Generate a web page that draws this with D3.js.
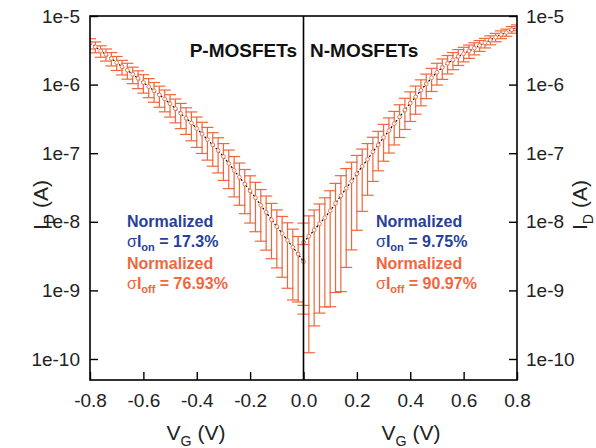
<!DOCTYPE html>
<html lang="en">
<head>
<meta charset="UTF-8">
<title>P/N MOSFET transfer curves</title>
<script src="https://cdn.jsdelivr.net/npm/d3@7"></script>
<style>
  body { margin: 0; background: #fff; }
  text { font-family: Arial, "Liberation Sans", sans-serif; }
</style>
</head>
<body>
<svg id="chart" width="596" height="448"></svg>
<script>
// gate voltage steps (V), P side runs -0.8..0, N side 0..0.8
const pVg = [-0.80,-0.78,-0.76,-0.74,-0.72,-0.70,-0.68,-0.66,-0.64,-0.62,-0.60,-0.58,-0.56,-0.54,-0.52,-0.50,-0.48,-0.46,-0.44,-0.42,-0.40,-0.38,-0.36,-0.34,-0.32,-0.30,-0.28,-0.26,-0.24,-0.22,-0.20,-0.18,-0.16,-0.14,-0.12,-0.10,-0.08,-0.06,-0.04,-0.02,0.00];
const nVg = [0.00,0.02,0.04,0.06,0.08,0.10,0.12,0.14,0.16,0.18,0.20,0.22,0.24,0.26,0.28,0.30,0.32,0.34,0.36,0.38,0.40,0.42,0.44,0.46,0.48,0.50,0.52,0.54,0.56,0.58,0.60,0.62,0.64,0.66,0.68,0.70,0.72,0.74,0.76,0.78,0.80];

// mean drain current, log10(A)
const pLogId = [-5.40,-5.45,-5.51,-5.56,-5.62,-5.68,-5.74,-5.79,-5.85,-5.91,-5.97,-6.03,-6.09,-6.15,-6.21,-6.28,-6.35,-6.42,-6.49,-6.56,-6.64,-6.72,-6.80,-6.88,-6.96,-7.05,-7.15,-7.25,-7.35,-7.45,-7.55,-7.65,-7.76,-7.86,-7.97,-8.07,-8.17,-8.27,-8.37,-8.47,-8.58];
const nLogId = [-8.30,-8.21,-8.12,-8.03,-7.94,-7.84,-7.73,-7.62,-7.51,-7.41,-7.30,-7.19,-7.09,-6.98,-6.88,-6.77,-6.67,-6.57,-6.47,-6.37,-6.27,-6.18,-6.08,-5.99,-5.90,-5.82,-5.75,-5.69,-5.64,-5.59,-5.55,-5.51,-5.47,-5.43,-5.39,-5.35,-5.31,-5.27,-5.24,-5.20,-5.17];

// normalized standard deviation (sigma / mean) per point
const pSigma = [0.17,0.18,0.19,0.20,0.22,0.23,0.24,0.26,0.27,0.29,0.30,0.31,0.32,0.34,0.35,0.36,0.38,0.40,0.42,0.45,0.47,0.48,0.50,0.51,0.53,0.55,0.57,0.59,0.61,0.63,0.66,0.68,0.70,0.72,0.73,0.75,0.77,0.80,0.83,0.80,0.77];
const nSigma = [0.91,0.98,0.96,0.95,0.95,0.96,0.95,0.96,0.93,0.90,0.85,0.78,0.70,0.63,0.58,0.55,0.53,0.51,0.50,0.48,0.46,0.44,0.41,0.39,0.37,0.35,0.33,0.30,0.28,0.26,0.24,0.22,0.20,0.18,0.16,0.15,0.14,0.13,0.12,0.11,0.0975];

const xTicks = [-0.8,-0.6,-0.4,-0.2,0.0,0.2,0.4,0.6,0.8];
const yTicks = [1e-5,1e-6,1e-7,1e-8,1e-9,1e-10];
const yTickLabels = ["1e-5","1e-6","1e-7","1e-8","1e-9","1e-10"];

const orange = "#f2663d";
const blue = "#27409a";

const pLeft = 90, pRight = 517, pTop = 16, pBottom = 380;

const svg = d3.select("#chart");

const x = d3.scaleLinear().domain([-0.8, 0.8]).range([pLeft, pRight]);
const y = d3.scaleLog().domain([4.94e-11, 1e-5]).range([pBottom, pTop]);

svg.append("defs").append("clipPath").attr("id", "plot-clip")
  .append("rect").attr("x", pLeft).attr("y", pTop)
  .attr("width", pRight - pLeft).attr("height", pBottom - pTop);

function makeSeries(vg, logId, sigma) {
  return vg.map((v, i) => {
    const m = Math.pow(10, logId[i]);
    return { v: v, m: m, hi: m * (1 + sigma[i]), lo: m * (1 - sigma[i]) };
  });
}
const pData = makeSeries(pVg, pLogId, pSigma);
const nData = makeSeries(nVg, nLogId, nSigma);

const plot = svg.append("g").attr("clip-path", "url(#plot-clip)");

function drawSeries(data) {
  const g = plot.append("g");
  const cap = 6;
  const bars = g.selectAll(".bar").data(data).enter().append("g").attr("class", "bar")
    .attr("stroke", orange).attr("stroke-width", 1.2);
  bars.append("line")
    .attr("x1", d => x(d.v)).attr("x2", d => x(d.v))
    .attr("y1", d => y(d.hi)).attr("y2", d => y(d.lo));
  bars.append("line")
    .attr("x1", d => x(d.v) - cap).attr("x2", d => x(d.v) + cap)
    .attr("y1", d => y(d.hi)).attr("y2", d => y(d.hi));
  bars.append("line")
    .attr("x1", d => x(d.v) - cap).attr("x2", d => x(d.v) + cap)
    .attr("y1", d => y(d.lo)).attr("y2", d => y(d.lo));

  g.append("path").datum(data)
    .attr("fill", "none").attr("stroke", "#000").attr("stroke-width", 1.2)
    .attr("stroke-dasharray", "2,2")
    .attr("d", d3.line().x(d => x(d.v)).y(d => y(d.m)));

  g.selectAll(".pt").data(data).enter().append("circle").attr("class", "pt")
    .attr("cx", d => x(d.v)).attr("cy", d => y(d.m)).attr("r", 1.9)
    .attr("fill", "#fff").attr("stroke", orange).attr("stroke-width", 0.9);
}
drawSeries(pData);
drawSeries(nData);

// divider at V = 0
svg.append("line")
  .attr("x1", x(0)).attr("x2", x(0)).attr("y1", pTop).attr("y2", pBottom)
  .attr("stroke", "#000").attr("stroke-width", 1.6);

// axes
const fmt = (d, i) => yTickLabels[i];
const yLeft = svg.append("g").attr("transform", `translate(${pLeft},0)`)
  .call(d3.axisLeft(y).tickValues(yTicks).tickFormat(fmt).tickSize(-8).tickPadding(10));
const yRight = svg.append("g").attr("transform", `translate(${pRight},0)`)
  .call(d3.axisRight(y).tickValues(yTicks).tickFormat(fmt).tickSize(-8).tickPadding(9));
const xBottom = svg.append("g").attr("transform", `translate(0,${pBottom})`)
  .call(d3.axisBottom(x).tickValues(xTicks).tickFormat(d3.format(".1f")).tickSize(-8).tickPadding(14));

[yLeft, yRight, xBottom].forEach(a => {
  a.select(".domain").remove();
  a.selectAll(".tick line").attr("stroke", "#000").attr("stroke-width", 1.4);
  a.selectAll(".tick text").attr("font-size", 19).attr("fill", "#222")
    .style("font-family", "Arial, 'Liberation Sans', sans-serif");
});
xBottom.selectAll(".tick text").text(d => d3.format(".1f")(d).replace("−", "-"));

svg.append("rect")
  .attr("x", pLeft).attr("y", pTop).attr("width", pRight - pLeft).attr("height", pBottom - pTop)
  .attr("fill", "none").attr("stroke", "#000").attr("stroke-width", 1.6);

// axis titles
function subLabel(g, main, sub, rest, size) {
  const t = g.append("text").attr("font-size", size).attr("fill", "#222");
  t.append("tspan").text(main);
  t.append("tspan").attr("font-size", size * 0.68).attr("dy", size * 0.28).text(sub);
  t.append("tspan").attr("dy", -size * 0.28).text(rest);
  return t;
}
subLabel(svg, "V", "G", " (V)", 21).attr("x", 196).attr("y", 440).attr("text-anchor", "middle");
subLabel(svg, "V", "G", " (V)", 21).attr("x", 411).attr("y", 440).attr("text-anchor", "middle");
subLabel(svg, "I", "D", " (A)", 21).attr("text-anchor", "middle")
  .attr("transform", "translate(48,205) rotate(-90)");
subLabel(svg, "I", "D", " (A)", 21).attr("text-anchor", "middle")
  .attr("transform", "translate(587,205) rotate(-90)");

// panel titles
svg.append("text").attr("x", 297).attr("y", 57).attr("text-anchor", "end")
  .attr("font-size", 19).attr("font-weight", "bold").attr("fill", "#111").text("P-MOSFETs");
svg.append("text").attr("x", 310).attr("y", 57)
  .attr("font-size", 19).attr("font-weight", "bold").attr("fill", "#111").text("N-MOSFETs");

// sigma notes
function note(x0, on, off) {
  const rows = [
    { y: 227, c: blue, kind: "head" },
    { y: 247, c: blue, sub: "on", val: on },
    { y: 269, c: orange, kind: "head" },
    { y: 289, c: orange, sub: "off", val: off }
  ];
  rows.forEach(r => {
    const t = svg.append("text").attr("x", x0).attr("y", r.y).attr("fill", r.c)
      .attr("font-size", 16).attr("font-weight", "bold");
    if (r.kind === "head") { t.text("Normalized"); return; }
    t.append("tspan").attr("font-weight", "normal").text("σ");
    t.append("tspan").text("I");
    t.append("tspan").attr("font-size", 11).attr("dy", 4).text(r.sub);
    t.append("tspan").attr("dy", -4).text(" = " + r.val);
  });
}
note(127, "17.3%", "76.93%");
note(376, "9.75%", "90.97%");
</script>
</body>
</html>
